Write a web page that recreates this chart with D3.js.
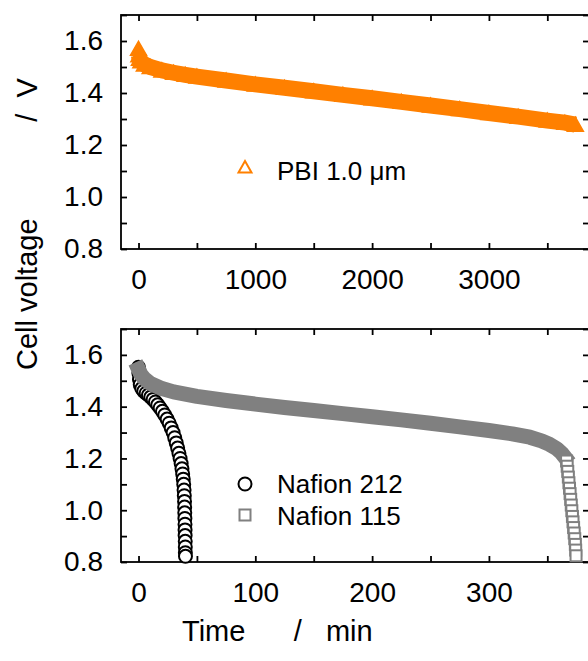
<!DOCTYPE html>
<html>
<head>
<meta charset="utf-8">
<script src="https://cdn.jsdelivr.net/npm/d3@7"></script>
<style>
  body { margin: 0; background: #fff; }
  svg { display: block; font-family: "Liberation Sans", Arial, sans-serif; }
</style>
</head>
<body>
<svg id="chart" width="588" height="661"></svg>
<script>
// PBI 1.0 um membrane (top panel), time in min, cell voltage in V
const pbiTime = [0, 3, 8, 20, 50, 100, 200, 300, 400, 500, 750, 1000, 1250, 1500, 1750, 2000, 2250, 2500, 2750, 3000, 3250, 3500, 3650, 3740];
const pbiVolt = [1.57, 1.545, 1.532, 1.522, 1.51, 1.50, 1.487, 1.478, 1.47, 1.463, 1.448, 1.433, 1.42, 1.407, 1.393, 1.38, 1.366, 1.352, 1.338, 1.323, 1.309, 1.294, 1.286, 1.278];

// Nafion 212 (bottom panel)
const n212Time = [0, 0.3, 0.8, 1.5, 2.8, 4.5, 6.5, 8.5, 10.5, 12.5, 14.5, 16.5, 18.5, 20.5, 22.5, 24.5, 26.3, 28, 29.6, 31, 32.3, 33.5, 34.6, 35.6, 36.5, 37.2, 37.8, 38.3, 38.7, 39, 39.2, 39.4, 39.5, 39.6, 39.7, 39.8, 39.85, 39.9, 40, 40.05, 40.1, 40.2];
const n212Volt = [1.552, 1.53, 1.505, 1.485, 1.47, 1.46, 1.452, 1.445, 1.437, 1.428, 1.418, 1.407, 1.395, 1.382, 1.368, 1.352, 1.336, 1.318, 1.3, 1.28, 1.26, 1.24, 1.22, 1.2, 1.18, 1.16, 1.14, 1.12, 1.1, 1.078, 1.056, 1.034, 1.012, 0.99, 0.968, 0.946, 0.924, 0.902, 0.88, 0.858, 0.836, 0.822];

// Nafion 115 (bottom panel)
const n115Time = [0, 2, 5, 10, 20, 30, 50, 75, 100, 125, 150, 175, 200, 225, 250, 275, 300, 320, 335, 345, 352, 358, 362, 365, 366.5, 367, 367.5, 368, 368.5, 369, 369.5, 370, 370.5, 371, 371.5, 372, 372.5, 373, 373.5, 374, 374.3, 374.6];
const n115Volt = [1.545, 1.525, 1.508, 1.49, 1.47, 1.457, 1.44, 1.424, 1.41, 1.397, 1.385, 1.373, 1.361, 1.349, 1.336, 1.322, 1.308, 1.295, 1.282, 1.268, 1.254, 1.238, 1.222, 1.205, 1.19, 1.17, 1.15, 1.128, 1.106, 1.085, 1.064, 1.042, 1.02, 0.998, 0.976, 0.955, 0.933, 0.912, 0.89, 0.868, 0.846, 0.824];

const topXTicks = [0, 500, 1000, 1500, 2000, 2500, 3000, 3500];
const topXLabels = [0, 1000, 2000, 3000];
const botXTicks = [0, 50, 100, 150, 200, 250, 300, 350];
const botXLabels = [0, 100, 200, 300];
const yTicks = [0.8, 0.9, 1.0, 1.1, 1.2, 1.3, 1.4, 1.5, 1.6, 1.7];
const yLabels = [0.8, 1.0, 1.2, 1.4, 1.6];

const ORANGE = "#ff8000", GREY = "#808080";
const left = 121, right = 589;
const sp = n => "\u00a0".repeat(n);

const svg = d3.select("#chart");

const zip = (t, v) => t.map((d, i) => ({ t: d, v: v[i] }));
const pbi = zip(pbiTime, pbiVolt);
const n212 = zip(n212Time, n212Volt);
const n115 = zip(n115Time, n115Volt);

function panel(top, bottom, xDomain, xTicks, xLabels) {
  const x = d3.scaleLinear().domain(xDomain).range([left, 588.2]);
  const y = d3.scaleLinear().domain([0.8, 1.7]).range([bottom, top]);
  const g = svg.append("g");

  const fmtX = d => xLabels.includes(d) ? d : "";
  const fmtY = d => yLabels.some(l => Math.abs(l - d) < 1e-6) ? d3.format(".1f")(d) : "";

  const axes = [
    [d3.axisBottom(x).tickValues(xTicks).tickFormat(fmtX).tickPadding(20), `translate(0,${bottom})`],
    [d3.axisTop(x).tickValues(xTicks).tickFormat(""), `translate(0,${top})`],
    [d3.axisLeft(y).tickValues(yTicks).tickFormat(fmtY).tickPadding(18), `translate(${left},0)`],
    [d3.axisRight(y).tickValues(yTicks).tickFormat(""), `translate(${right},0)`]
  ];
  axes.forEach(([ax, tr]) => {
    const a = g.append("g").attr("transform", tr)
      .call(ax.tickSizeInner(-6).tickSizeOuter(0));
    a.select(".domain").remove();
    a.selectAll("line").attr("stroke", "#000").attr("stroke-width", 1.8);
    a.selectAll("text").attr("fill", "#000").style("font-size", "28px")
      .style("font-family", '"Liberation Sans", Arial, sans-serif');
  });

  g.append("rect")
    .attr("x", left).attr("y", top)
    .attr("width", right - left).attr("height", bottom - top)
    .attr("fill", "none").attr("stroke", "#000").attr("stroke-width", 1.8);

  return { x, y, g };
}

const tri = "M0,-7.5L8,6.5L-8,6.5Z";

// top panel: PBI
const p1 = panel(15, 249, [-150, 3850], topXTicks, topXLabels);
const lineTop = d3.line().x(d => p1.x(d.t)).y(d => p1.y(d.v));
p1.g.append("path")
  .datum(pbi.slice(1))
  .attr("fill", "none")
  .attr("stroke", ORANGE)
  .attr("stroke-width", 16)
  .attr("stroke-linejoin", "round")
  .attr("d", lineTop);
p1.g.selectAll(".tri")
  .data(pbi)
  .enter()
  .append("path")
  .attr("transform", d => `translate(${p1.x(d.t)},${p1.y(d.v)})`)
  .attr("d", tri)
  .attr("fill", ORANGE)
  .attr("stroke", ORANGE)
  .attr("stroke-width", 1.5);

// legend top
svg.append("path").attr("transform", "translate(245,167)").attr("d", "M0,-6L6.5,5.5L-6.5,5.5Z")
  .attr("fill", "#fff").attr("stroke", ORANGE).attr("stroke-width", 2);
svg.append("text").attr("x", 277).attr("y", 180).style("font-size", "26px").text("PBI 1.0 \u03bcm");

// bottom panel: Nafion
const p2 = panel(329, 562, [-15, 385], botXTicks, botXLabels);

p2.g.selectAll(".circ")
  .data(n212)
  .enter()
  .append("circle")
  .attr("cx", d => p2.x(d.t))
  .attr("cy", d => p2.y(d.v))
  .attr("r", 6.5)
  .attr("fill", "#fff")
  .attr("stroke", "#000")
  .attr("stroke-width", 2);

const band = n115.filter(d => d.v >= 1.2);
const tail = n115.filter(d => d.v < 1.2);
const lineBot = d3.line().x(d => p2.x(d.t)).y(d => p2.y(d.v));
p2.g.append("path")
  .datum(band)
  .attr("fill", "none")
  .attr("stroke", GREY)
  .attr("stroke-width", 15)
  .attr("stroke-linejoin", "round")
  .attr("stroke-linecap", "square")
  .attr("d", lineBot);
p2.g.selectAll(".sq")
  .data(tail)
  .enter()
  .append("rect")
  .attr("x", d => p2.x(d.t) - 5.5)
  .attr("y", d => p2.y(d.v) - 5.5)
  .attr("width", 11)
  .attr("height", 11)
  .attr("fill", "#fff")
  .attr("stroke", GREY)
  .attr("stroke-width", 2);

// legend bottom
svg.append("circle").attr("cx", 245).attr("cy", 484).attr("r", 6.5)
  .attr("fill", "#fff").attr("stroke", "#000").attr("stroke-width", 2);
svg.append("text").attr("x", 277).attr("y", 493).style("font-size", "26px").text("Nafion 212");
svg.append("rect").attr("x", 239.5).attr("y", 509.5).attr("width", 11).attr("height", 11)
  .attr("fill", "#fff").attr("stroke", GREY).attr("stroke-width", 2);
svg.append("text").attr("x", 277).attr("y", 525).style("font-size", "26px").text("Nafion 115");

// axis titles
svg.append("text")
  .attr("transform", "translate(37,370) rotate(-90)")
  .style("font-size", "29px")
  .text("Cell voltage" + sp(12) + "/" + sp(2) + "V");
svg.append("text")
  .attr("x", 182).attr("y", 641)
  .style("font-size", "29px")
  .text("Time" + sp(6) + "/" + sp(3) + "min");
</script>
</body>
</html>
